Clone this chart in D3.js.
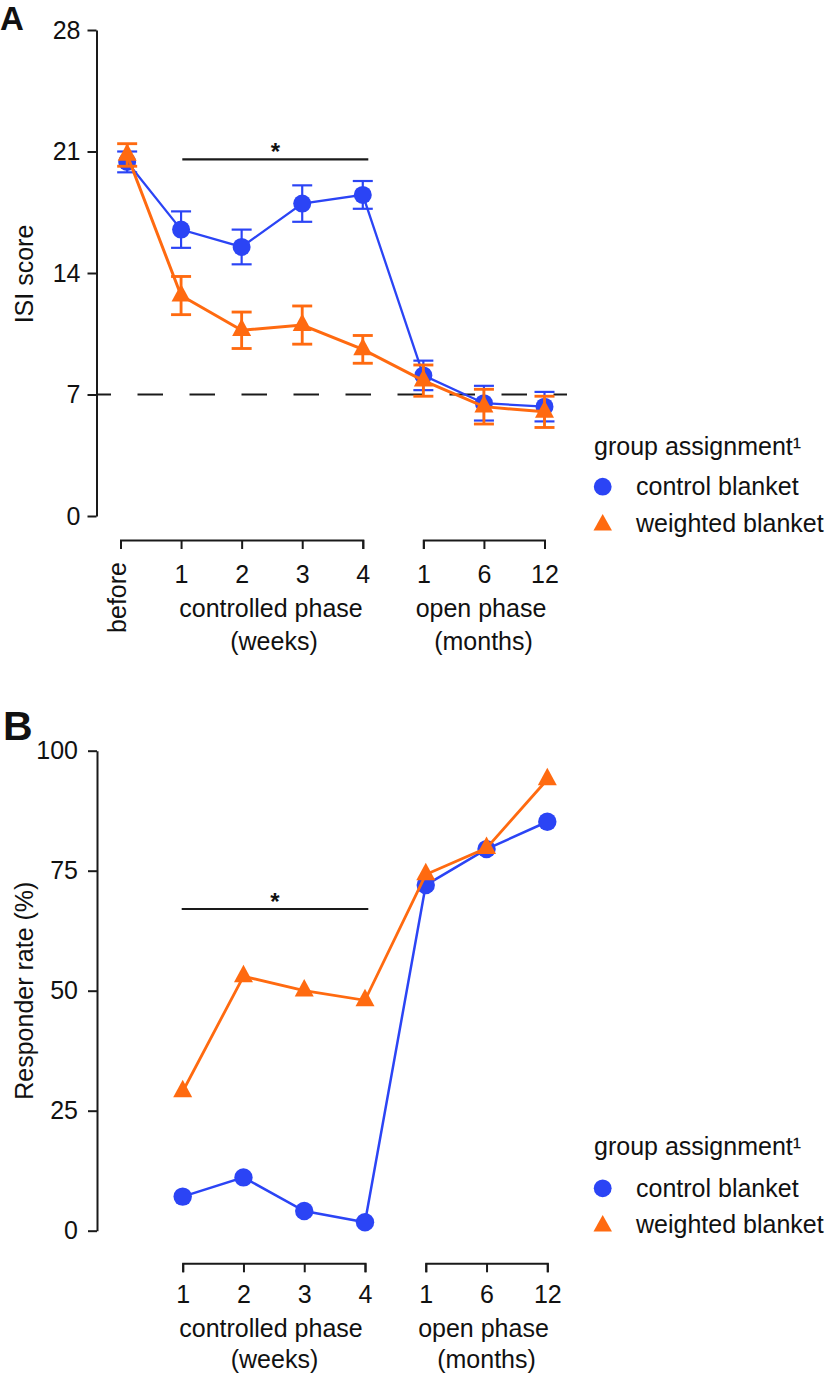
<!DOCTYPE html>
<html>
<head>
<meta charset="utf-8">
<script src="https://cdn.jsdelivr.net/npm/d3@7"></script>
<style>
  html, body { margin: 0; padding: 0; background: #fff; }
  svg text { font-family: "Liberation Sans", Arial, Helvetica, sans-serif; fill: #111; }
</style>
</head>
<body>
<svg id="chart" width="829" height="1374"></svg>
<script>
// ---------------- DATA ----------------
const ctrlLabelsA = ["before", "1", "2", "3", "4"];
const ctrlLabelsB = ["1", "2", "3", "4"];
const openLabels = ["1", "6", "12"];
const phaseLabels = ["controlled phase", "(weeks)", "open phase", "(months)"];
const seriesNames = ["control blanket", "weighted blanket"];
const legendTitle = "group assignment\u00B9";

const isiTicks = [0, 7, 14, 21, 28];
const isiPos = [0.11, 1, 2, 3, 4, 5, 6, 7];
const isiControl = [20.4, 16.5, 15.5, 18.0, 18.5, 8.1, 6.5, 6.3];
const isiControlErr = [0.6, 1.05, 1.0, 1.05, 0.8, 0.85, 1.0, 0.85];
const isiWeighted = [20.8, 12.7, 10.7, 11.0, 9.6, 7.8, 6.3, 6.0];
const isiWeightedErr = [0.65, 1.1, 1.05, 1.1, 0.8, 0.9, 1.0, 0.9];
const isiCutoff = 7;

const rateTicks = [0, 25, 50, 75, 100];
const ratePos = [1, 2, 3, 4, 5, 6, 7];
const rateControl = [7.1, 11.1, 4.1, 1.75, 72, 79.5, 85.2];
const rateWeighted = [29, 53, 50, 48, 74.2, 79.7, 94];

// ---------------- STYLE ----------------
const BLUE = "#2b44f5";
const ORANGE = "#ff6a10";
const AX = "#1a1a1a";
const FS = 25;

const svg = d3.select("#chart");

function triPath(cx, cy, w, h) {
  return `M${cx},${cy - h * 2 / 3}L${cx + w / 2},${cy + h / 3}L${cx - w / 2},${cy + h / 3}Z`;
}

function styleAxis(g) {
  g.selectAll("path.domain").attr("stroke", AX).attr("stroke-width", 2);
  g.selectAll(".tick line").attr("stroke", AX).attr("stroke-width", 2);
  g.selectAll(".tick text").attr("font-size", FS).attr("fill", "#111")
    .style("font-family", '"Liberation Sans", Arial, Helvetica, sans-serif');
}

function drawLegend(titleY, circY, triY) {
  const lx = 602.7;
  svg.append("text").attr("x", 594).attr("y", titleY).attr("font-size", FS).text(legendTitle);
  svg.append("circle").attr("cx", lx).attr("cy", circY).attr("r", 8.9).attr("fill", BLUE);
  svg.append("text").attr("x", 636).attr("y", circY + 8.5).attr("font-size", FS).text(seriesNames[0]);
  svg.append("path").attr("d", triPath(lx, triY, 18.5, 16.5)).attr("fill", ORANGE);
  svg.append("text").attr("x", 636).attr("y", triY + 7).attr("font-size", FS).text(seriesNames[1]);
}

function sigBar(x1, x2, y) {
  svg.append("line").attr("x1", x1).attr("x2", x2).attr("y1", y).attr("y2", y)
    .attr("stroke", AX).attr("stroke-width", 2.2);
  svg.append("text").attr("x", (x1 + x2) / 2).attr("y", y + 1).attr("text-anchor", "middle")
    .attr("font-size", 24).attr("font-weight", "bold").text("*");
}

// ================= PANEL A =================
const yA = d3.scaleLinear().domain([0, 28]).range([516, 30]);
const xA = d3.scaleLinear().domain([0, 7]).range([120.5, 544.5]);

svg.append("text").attr("x", 0).attr("y", 30).attr("font-size", 33).attr("font-weight", "bold").text("A");

// y axis
const gyA = svg.append("g").attr("transform", "translate(96.5,0)")
  .call(d3.axisLeft(yA).tickValues(isiTicks).tickSize(9).tickSizeOuter(0).tickPadding(7));
styleAxis(gyA);

svg.append("text").attr("transform", `translate(33,${(yA(0) + yA(28)) / 2 + 1}) rotate(-90)`)
  .attr("text-anchor", "middle").attr("font-size", FS).text("ISI score");

// x axes (two segments)
const xCtrlA = d3.scaleLinear().domain([0, 4]).range([xA(0), xA(4)]);
const xOpenA = d3.scaleLinear().domain([5, 7]).range([xA(5), xA(7)]);
const gxA1 = svg.append("g").attr("transform", "translate(0,540)")
  .call(d3.axisBottom(xCtrlA).tickValues([0, 1, 2, 3, 4]).tickSize(9).tickSizeOuter(9)
    .tickFormat(i => ctrlLabelsA[i]));
const gxA2 = svg.append("g").attr("transform", "translate(0,540)")
  .call(d3.axisBottom(xOpenA).tickValues([5, 6, 7]).tickSize(9).tickSizeOuter(9)
    .tickFormat(i => openLabels[i - 5]));
styleAxis(gxA1); styleAxis(gxA2);
[gxA1, gxA2].forEach(g => g.selectAll(".tick text").attr("y", 42.7).attr("dy", 0));
gxA1.selectAll(".tick text").filter(i => i === 0)
  .attr("text-anchor", "end").attr("y", 0).attr("x", 0)
  .attr("transform", "translate(5,22) rotate(-90)").attr("dy", 0);

svg.append("text").attr("x", 271).attr("y", 616.7).attr("text-anchor", "middle").attr("font-size", FS).text(phaseLabels[0]);
svg.append("text").attr("x", 274).attr("y", 650).attr("text-anchor", "middle").attr("font-size", FS).text(phaseLabels[1]);
svg.append("text").attr("x", 481).attr("y", 616.7).attr("text-anchor", "middle").attr("font-size", FS).text(phaseLabels[2]);
svg.append("text").attr("x", 483.5).attr("y", 650).attr("text-anchor", "middle").attr("font-size", FS).text(phaseLabels[3]);

// dashed cutoff line
svg.append("line").attr("x1", 96.5).attr("x2", 567).attr("y1", yA(isiCutoff)).attr("y2", yA(isiCutoff))
  .attr("stroke", AX).attr("stroke-width", 2.2).attr("stroke-dasharray", "25.5,26.5")
  .attr("stroke-dashoffset", 11);

// significance
sigBar(182.3, 368.3, 159.3);

function drawSeriesA(vals, errs, color, lw, marker) {
  const pts = vals.map((v, i) => ({ x: xA(isiPos[i]), v, e: errs[i] }));
  const line = d3.line().x(d => d.x).y(d => yA(d.v));
  const g = svg.append("g");
  g.append("path").datum(pts).attr("d", line).attr("fill", "none").attr("stroke", color).attr("stroke-width", lw);
  const eb = g.selectAll("g.eb").data(pts).join("g").attr("stroke", color).attr("stroke-width", lw * 0.95);
  eb.append("line").attr("x1", d => d.x).attr("x2", d => d.x).attr("y1", d => yA(d.v - d.e)).attr("y2", d => yA(d.v + d.e));
  eb.append("line").attr("x1", d => d.x - 10).attr("x2", d => d.x + 10).attr("y1", d => yA(d.v + d.e)).attr("y2", d => yA(d.v + d.e));
  eb.append("line").attr("x1", d => d.x - 10).attr("x2", d => d.x + 10).attr("y1", d => yA(d.v - d.e)).attr("y2", d => yA(d.v - d.e));
  if (marker === "circle") {
    g.selectAll("circle").data(pts).join("circle").attr("cx", d => d.x).attr("cy", d => yA(d.v)).attr("r", 9).attr("fill", color);
  } else {
    g.selectAll("path.tri").data(pts).join("path").attr("class", "tri")
      .attr("d", d => triPath(d.x, yA(d.v), 19, 17.5)).attr("fill", color);
  }
}
drawSeriesA(isiControl, isiControlErr, BLUE, 2.3, "circle");
drawSeriesA(isiWeighted, isiWeightedErr, ORANGE, 3, "triangle");

drawLegend(455, 486.7, 525);

// ================= PANEL B =================
const yB = d3.scaleLinear().domain([0, 100]).range([1230.7, 750.7]);
const xB = d3.scaleLinear().domain([1, 7]).range([182.7, 547.3]);

svg.append("text").attr("x", 3).attr("y", 740).attr("font-size", 41).attr("font-weight", "bold").text("B");

const gyB = svg.append("g").attr("transform", "translate(97,0)")
  .call(d3.axisLeft(yB).tickValues(rateTicks).tickSize(9).tickSizeOuter(0).tickPadding(10));
styleAxis(gyB);

svg.append("text").attr("transform", `translate(33,${(yB(0) + yB(100)) / 2}) rotate(-90)`)
  .attr("text-anchor", "middle").attr("font-size", FS).text("Responder rate (%)");

const xCtrlB = d3.scaleLinear().domain([1, 4]).range([xB(1), xB(4)]);
const xOpenB = d3.scaleLinear().domain([5, 7]).range([xB(5), xB(7)]);
const gxB1 = svg.append("g").attr("transform", "translate(0,1263.3)")
  .call(d3.axisBottom(xCtrlB).tickValues([1, 2, 3, 4]).tickSize(9).tickSizeOuter(9)
    .tickFormat(i => ctrlLabelsB[i - 1]));
const gxB2 = svg.append("g").attr("transform", "translate(0,1263.3)")
  .call(d3.axisBottom(xOpenB).tickValues([5, 6, 7]).tickSize(9).tickSizeOuter(9)
    .tickFormat(i => openLabels[i - 5]));
styleAxis(gxB1); styleAxis(gxB2);
[gxB1, gxB2].forEach(g => g.selectAll(".tick text").attr("y", 39.4).attr("dy", 0));

svg.append("text").attr("x", 271).attr("y", 1336.7).attr("text-anchor", "middle").attr("font-size", FS).text(phaseLabels[0]);
svg.append("text").attr("x", 274.5).attr("y", 1367.5).attr("text-anchor", "middle").attr("font-size", FS).text(phaseLabels[1]);
svg.append("text").attr("x", 483.5).attr("y", 1336.7).attr("text-anchor", "middle").attr("font-size", FS).text(phaseLabels[2]);
svg.append("text").attr("x", 486.5).attr("y", 1367.5).attr("text-anchor", "middle").attr("font-size", FS).text(phaseLabels[3]);

sigBar(181.7, 368.3, 909);

function drawSeriesB(vals, color, lw, marker) {
  const pts = vals.map((v, i) => ({ x: xB(ratePos[i]), v }));
  const g = svg.append("g");
  g.append("path").datum(pts).attr("d", d3.line().x(d => d.x).y(d => yB(d.v)))
    .attr("fill", "none").attr("stroke", color).attr("stroke-width", lw);
  if (marker === "circle") {
    g.selectAll("circle").data(pts).join("circle").attr("cx", d => d.x).attr("cy", d => yB(d.v)).attr("r", 9.2).attr("fill", color);
  } else {
    g.selectAll("path.tri").data(pts).join("path").attr("class", "tri")
      .attr("d", d => triPath(d.x, yB(d.v), 19, 17.5)).attr("fill", color);
  }
}
drawSeriesB(rateControl, BLUE, 2.5, "circle");
drawSeriesB(rateWeighted, ORANGE, 2.8, "triangle");

drawLegend(1155, 1188.3, 1226);
</script>
</body>
</html>
